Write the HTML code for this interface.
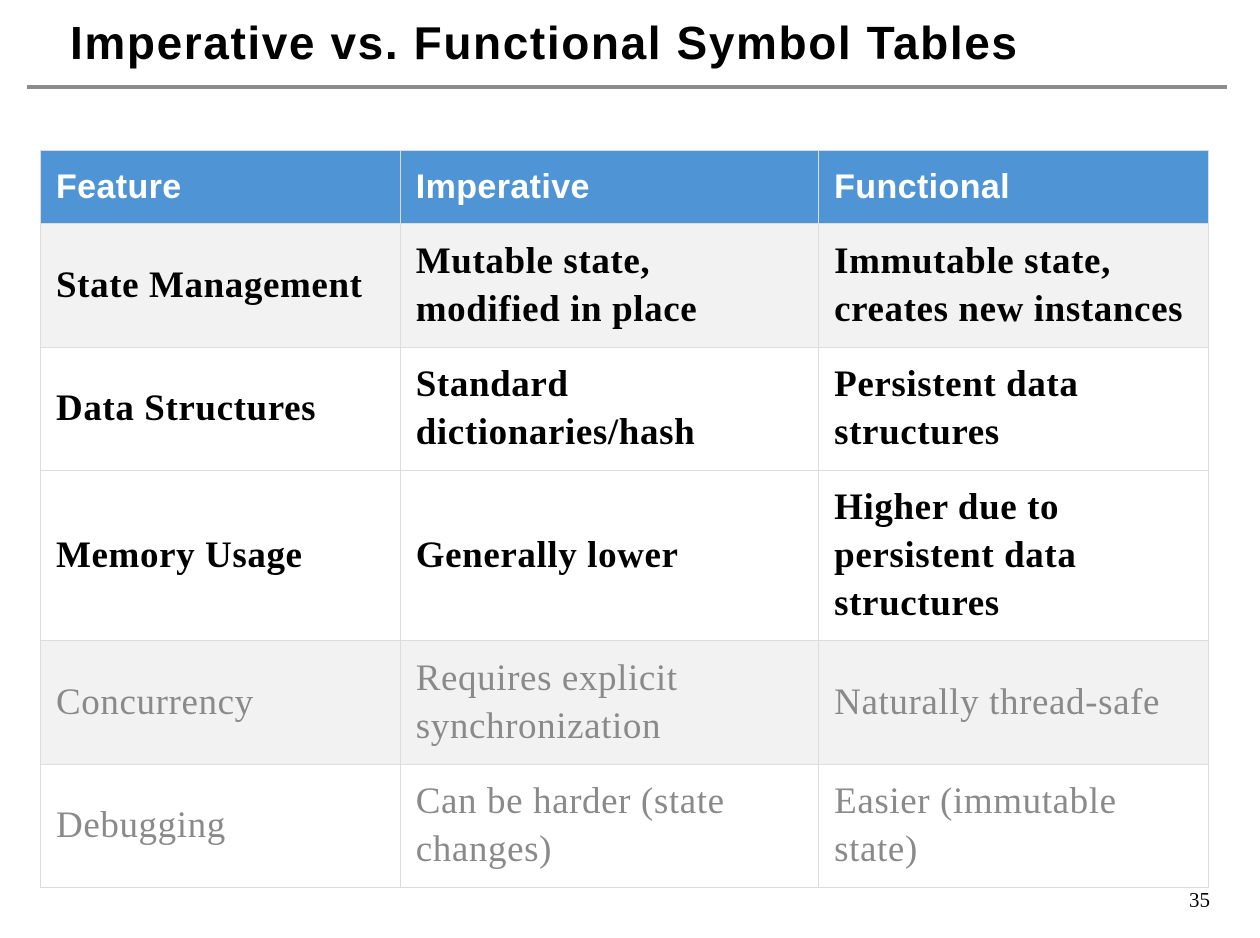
<!DOCTYPE html>
<html><head><style>
body{margin:0;width:1260px;height:938px;background:#fff;position:relative;overflow:hidden}
.t{position:absolute;left:70px;top:16px;font:bold 46px "Liberation Sans",sans-serif;color:#000;letter-spacing:1.6px}
.rule{position:absolute;left:27px;top:85px;width:1200px;height:4px;background:#8c8c8c}
table{position:absolute;left:40px;top:150px;border-collapse:collapse;width:1169px}
td{border:1.5px solid #dcdcdc;padding:0 0 0 15px;vertical-align:middle;font:bold 37px/48px "Liberation Serif",serif;color:#000;letter-spacing:0.6px;white-space:nowrap}
th{background:#4f95d6;color:#fff;text-align:left;font:bold 34px "Liberation Sans",sans-serif;padding:0 0 0 15px;height:72px;border:1.5px solid #dcdcdc;letter-spacing:0.4px}
tr.g td{background:#f2f2f2}
td.n{font-weight:normal;color:#8a8a8a}
.pn{position:absolute;left:1189px;top:888px;font:21px "Liberation Serif",serif}
</style></head><body>
<div class="t">Imperative vs. Functional Symbol Tables</div>
<div class="rule"></div>
<table>
<colgroup><col style="width:360px"><col style="width:419px"><col style="width:390px"></colgroup>
<tr><th>Feature</th><th>Imperative</th><th>Functional</th></tr>
<tr class="g" style="height:124px"><td>State Management</td><td>Mutable state,<br>modified in place</td><td>Immutable state,<br>creates new instances</td></tr>
<tr style="height:123px"><td>Data Structures</td><td>Standard<br>dictionaries/hash</td><td>Persistent data<br>structures</td></tr>
<tr style="height:170px"><td>Memory Usage</td><td>Generally lower</td><td>Higher due to<br>persistent data<br>structures</td></tr>
<tr class="g" style="height:124px"><td class="n">Concurrency</td><td class="n">Requires explicit<br>synchronization</td><td class="n">Naturally thread-safe</td></tr>
<tr style="height:123px"><td class="n">Debugging</td><td class="n">Can be harder (state<br>changes)</td><td class="n">Easier (immutable<br>state)</td></tr>
</table>
<div class="pn">35</div>
</body></html>
